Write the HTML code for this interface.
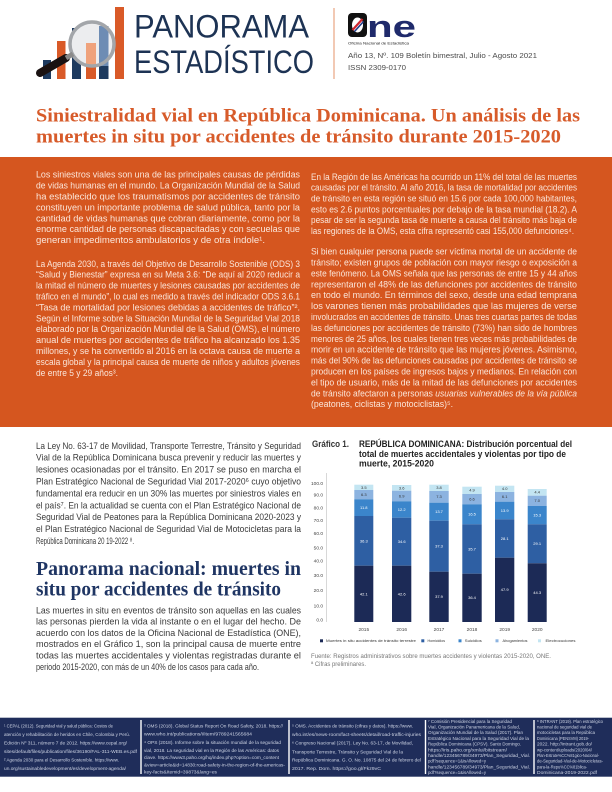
<!DOCTYPE html>
<html><head><meta charset="utf-8"><style>
html,body{margin:0;padding:0;background:#fff;}
svg{display:block;}
.b{font-family:"Liberation Sans",sans-serif;}
.o{font-family:"Liberation Sans",sans-serif;font-size:9px;fill:#FBE6DA;}
.g{font-family:"Liberation Sans",sans-serif;font-size:9.4px;fill:#3a3a3a;}
.f{font-family:"Liberation Sans",sans-serif;fill:#CDD3E3;}
.t{font-family:"Liberation Sans",sans-serif;font-size:4.8px;fill:#444;}
.w{font-family:"Liberation Sans",sans-serif;font-size:4px;fill:#fff;text-anchor:middle;}
.d{font-family:"Liberation Sans",sans-serif;font-size:4px;fill:#333;text-anchor:middle;}
</style></head><body>
<svg width="612" height="792" viewBox="0 0 612 792" xmlns="http://www.w3.org/2000/svg">
<rect width="612" height="792" fill="#fff"/>

<!-- LOGO ICON -->
<rect x="43" y="60" width="8" height="19" fill="#1D3A5F"/>
<rect x="57" y="41" width="8.5" height="38" fill="#D95A28"/>
<rect x="72" y="28" width="9" height="51" fill="#1D3A5F"/>
<circle cx="92" cy="44" r="22" fill="#ECEDEF"/>
<rect x="86" y="43" width="10" height="36" fill="#D95A28"/>
<rect x="86" y="43" width="10" height="22" fill="#EFA27C"/>
<rect x="99" y="26" width="9.5" height="53" fill="#1D3A5F"/>
<rect x="99" y="26" width="9.5" height="40" fill="#6D8CB4"/>
<rect x="115" y="7" width="9" height="72" fill="#D95A28"/>
<circle cx="92" cy="44" r="22" fill="none" stroke="#A3A6AA" stroke-width="3.5"/>
<line x1="40" y1="73" x2="66" y2="58" stroke="#1a1212" stroke-width="8" stroke-linecap="round"/>
<line x1="66" y1="58" x2="73" y2="54" stroke="#8a8a8a" stroke-width="5"/>

<text x="134" y="37.5" class="b" font-size="32" fill="#1D3354" textLength="175" lengthAdjust="spacingAndGlyphs">PANORAMA</text>
<text x="134" y="73" class="b" font-size="32" fill="#1D3354" textLength="180" lengthAdjust="spacingAndGlyphs">ESTADÍSTICO</text>

<line x1="334" y1="8" x2="334" y2="79" stroke="#E9A583" stroke-width="1.2"/>

<!-- ONE logo -->
<rect x="348" y="13" width="19" height="24" rx="4" fill="#111"/>
<ellipse cx="357.5" cy="25" rx="5.5" ry="7.5" fill="#fff"/>
<line x1="352.5" y1="30" x2="362.5" y2="19" stroke="#D0262F" stroke-width="2.2"/>
<line x1="354.5" y1="31.5" x2="363.5" y2="21.5" stroke="#1F3C88" stroke-width="1.6"/>
<text x="367" y="37" class="b" font-size="31" font-weight="bold" fill="#1F2A6B" textLength="49" lengthAdjust="spacingAndGlyphs">ne</text>
<text x="348" y="44.5" class="b" font-size="3.6" fill="#222" textLength="61" lengthAdjust="spacingAndGlyphs">Oficina Nacional de Estadística</text>
<text x="348" y="58" class="b" font-size="7" fill="#4a4a4a" textLength="189" lengthAdjust="spacingAndGlyphs">Año 13, Nº. 109 Boletín bimestral, Julio - Agosto 2021</text>
<text x="348" y="70" class="b" font-size="7" fill="#4a4a4a" textLength="58" lengthAdjust="spacingAndGlyphs">ISSN 2309-0170</text>

<!-- TITLE -->
<text x="36" y="121.5" font-family="'Liberation Serif',serif" font-weight="bold" font-size="18.5" fill="#D75B2A" textLength="544" lengthAdjust="spacingAndGlyphs">Siniestralidad vial en República Dominicana. Un análisis de las</text>
<text x="36" y="142.5" font-family="'Liberation Serif',serif" font-weight="bold" font-size="18.5" fill="#D75B2A" textLength="525" lengthAdjust="spacingAndGlyphs">muertes in situ por accidentes de tránsito durante 2015-2020</text>

<!-- ORANGE BOX -->
<rect x="0" y="157" width="612" height="270" fill="#D5561F"/>
<text class="o" x="36" y="177.7" textLength="264" lengthAdjust="spacingAndGlyphs">Los siniestros viales son una de las principales causas de pérdidas</text>
<text class="o" x="36" y="188.6" textLength="264" lengthAdjust="spacingAndGlyphs">de vidas humanas en el mundo. La Organización Mundial de la Salud</text>
<text class="o" x="36" y="199.5" textLength="264" lengthAdjust="spacingAndGlyphs">ha establecido que los traumatismos por accidentes de tránsito</text>
<text class="o" x="36" y="210.4" textLength="264" lengthAdjust="spacingAndGlyphs">constituyen un importante problema de salud pública, tanto por la</text>
<text class="o" x="36" y="221.3" textLength="264" lengthAdjust="spacingAndGlyphs">cantidad de vidas humanas que cobran diariamente, como por la</text>
<text class="o" x="36" y="232.2" textLength="264" lengthAdjust="spacingAndGlyphs">enorme cantidad de personas discapacitadas y con secuelas que</text>
<text class="o" x="36" y="243.1" textLength="229" lengthAdjust="spacingAndGlyphs">generan impedimentos ambulatorios y de otra índole¹.</text>

<text class="o" x="36" y="266.8" textLength="264" lengthAdjust="spacingAndGlyphs">La Agenda 2030, a través del Objetivo de Desarrollo Sostenible (ODS) 3</text>
<text class="o" x="36" y="277.7" textLength="264" lengthAdjust="spacingAndGlyphs">“Salud y Bienestar” expresa en su Meta 3.6: “De aquí al 2020 reducir a</text>
<text class="o" x="36" y="288.6" textLength="264" lengthAdjust="spacingAndGlyphs">la mitad el número de muertes y lesiones causadas por accidentes de</text>
<text class="o" x="36" y="299.5" textLength="264" lengthAdjust="spacingAndGlyphs">tráfico en el mundo”, lo cual es medido a través del indicador ODS 3.6.1</text>
<text class="o" x="36" y="310.4" textLength="264" lengthAdjust="spacingAndGlyphs">“Tasa de mortalidad por lesiones debidas a accidentes de tráfico”².</text>
<text class="o" x="36" y="321.3" textLength="264" lengthAdjust="spacingAndGlyphs">Según el Informe sobre la Situación Mundial de la Seguridad Vial 2018</text>
<text class="o" x="36" y="332.2" textLength="264" lengthAdjust="spacingAndGlyphs">elaborado por la Organización Mundial de la Salud (OMS), el número</text>
<text class="o" x="36" y="343.1" textLength="264" lengthAdjust="spacingAndGlyphs">anual de muertes por accidentes de tráfico ha alcanzado los 1.35</text>
<text class="o" x="36" y="354.0" textLength="264" lengthAdjust="spacingAndGlyphs">millones, y se ha convertido al 2016 en la octava causa de muerte a</text>
<text class="o" x="36" y="364.9" textLength="264" lengthAdjust="spacingAndGlyphs">escala global y la principal causa de muerte de niños y adultos jóvenes</text>
<text class="o" x="36" y="375.8" textLength="82" lengthAdjust="spacingAndGlyphs">de entre 5 y 29 años³.</text>

<text class="o" x="311" y="179.9" textLength="266" lengthAdjust="spacingAndGlyphs">En la Región de las Américas ha ocurrido un 11% del total de las muertes</text>
<text class="o" x="311" y="190.7" textLength="266" lengthAdjust="spacingAndGlyphs">causadas por el tránsito. Al año 2016, la tasa de mortalidad por accidentes</text>
<text class="o" x="311" y="201.5" textLength="266" lengthAdjust="spacingAndGlyphs">de tránsito en esta región se situó en 15.6 por cada 100,000 habitantes,</text>
<text class="o" x="311" y="212.3" textLength="266" lengthAdjust="spacingAndGlyphs">esto es 2.6 puntos porcentuales por debajo de la tasa mundial (18.2). A</text>
<text class="o" x="311" y="223.1" textLength="266" lengthAdjust="spacingAndGlyphs">pesar de ser la segunda tasa de muerte a causa del tránsito más baja de</text>
<text class="o" x="311" y="233.9" textLength="263" lengthAdjust="spacingAndGlyphs">las regiones de la OMS, esta cifra representó casi 155,000 defunciones⁴.</text>

<text class="o" x="311" y="254.6" textLength="266" lengthAdjust="spacingAndGlyphs">Si bien cualquier persona puede ser víctima mortal de un accidente de</text>
<text class="o" x="311" y="265.5" textLength="266" lengthAdjust="spacingAndGlyphs">tránsito; existen grupos de población con mayor riesgo o exposición a</text>
<text class="o" x="311" y="276.4" textLength="266" lengthAdjust="spacingAndGlyphs">este fenómeno. La OMS señala que las personas de entre 15 y 44 años</text>
<text class="o" x="311" y="287.3" textLength="266" lengthAdjust="spacingAndGlyphs">representaron el 48% de las defunciones por accidentes de tránsito</text>
<text class="o" x="311" y="298.2" textLength="266" lengthAdjust="spacingAndGlyphs">en todo el mundo. En términos del sexo, desde una edad temprana</text>
<text class="o" x="311" y="309.1" textLength="266" lengthAdjust="spacingAndGlyphs">los varones tienen más probabilidades que las mujeres de verse</text>
<text class="o" x="311" y="320.0" textLength="266" lengthAdjust="spacingAndGlyphs">involucrados en accidentes de tránsito. Unas tres cuartas partes de todas</text>
<text class="o" x="311" y="330.9" textLength="266" lengthAdjust="spacingAndGlyphs">las defunciones por accidentes de tránsito (73%) han sido de hombres</text>
<text class="o" x="311" y="341.8" textLength="266" lengthAdjust="spacingAndGlyphs">menores de 25 años, los cuales tienen tres veces más probabilidades de</text>
<text class="o" x="311" y="352.7" textLength="266" lengthAdjust="spacingAndGlyphs">morir en un accidente de tránsito que las mujeres jóvenes. Asimismo,</text>
<text class="o" x="311" y="363.6" textLength="266" lengthAdjust="spacingAndGlyphs">más del 90% de las defunciones causadas por accidentes de tránsito se</text>
<text class="o" x="311" y="374.5" textLength="266" lengthAdjust="spacingAndGlyphs">producen en los países de ingresos bajos y medianos. En relación con</text>
<text class="o" x="311" y="385.4" textLength="266" lengthAdjust="spacingAndGlyphs">el tipo de usuario, más de la mitad de las defunciones por accidentes</text>
<text class="o" x="311" y="396.3" textLength="266" lengthAdjust="spacingAndGlyphs">de tránsito afectaron a personas <tspan font-style="italic">usuarias vulnerables de la vía pública</tspan></text>
<text class="o" x="311" y="407.2" textLength="142" lengthAdjust="spacingAndGlyphs">(peatones, ciclistas y motociclistas)⁵.</text>

<!-- LOWER LEFT -->
<text class="g" x="36" y="448.8" textLength="265" lengthAdjust="spacingAndGlyphs">La Ley No. 63-17 de Movilidad, Transporte Terrestre, Tránsito y Seguridad</text>
<text class="g" x="36" y="460.7" textLength="265" lengthAdjust="spacingAndGlyphs">Vial de la República Dominicana busca prevenir y reducir las muertes y</text>
<text class="g" x="36" y="472.6" textLength="265" lengthAdjust="spacingAndGlyphs">lesiones ocasionadas por el tránsito. En 2017 se puso en marcha el</text>
<text class="g" x="36" y="484.5" textLength="265" lengthAdjust="spacingAndGlyphs">Plan Estratégico Nacional de Seguridad Vial 2017-2020⁶ cuyo objetivo</text>
<text class="g" x="36" y="496.4" textLength="265" lengthAdjust="spacingAndGlyphs">fundamental era reducir en un 30% las muertes por siniestros viales en</text>
<text class="g" x="36" y="508.3" textLength="265" lengthAdjust="spacingAndGlyphs">el país⁷. En la actualidad se cuenta con el Plan Estratégico Nacional de</text>
<text class="g" x="36" y="520.2" textLength="265" lengthAdjust="spacingAndGlyphs">Seguridad Vial de Peatones para la República Dominicana 2020-2023 y</text>
<text class="g" x="36" y="532.1" textLength="265" lengthAdjust="spacingAndGlyphs">el Plan Estratégico Nacional de Seguridad Vial de Motocicletas para la</text>
<text class="g" x="36" y="544.0" textLength="98" lengthAdjust="spacingAndGlyphs">República Dominicana 20 19-2022 ⁸.</text>

<text x="36" y="575" font-family="'Liberation Serif',serif" font-weight="bold" font-size="19.5" fill="#1F3563" textLength="265" lengthAdjust="spacingAndGlyphs">Panorama nacional: muertes in</text>
<text x="36" y="595.5" font-family="'Liberation Serif',serif" font-weight="bold" font-size="19.5" fill="#1F3563" textLength="245" lengthAdjust="spacingAndGlyphs">situ por accidentes de tránsito</text>

<text class="g" x="36" y="613.3" textLength="265" lengthAdjust="spacingAndGlyphs">Las muertes in situ en eventos de tránsito son aquellas en las cuales</text>
<text class="g" x="36" y="624.6" textLength="265" lengthAdjust="spacingAndGlyphs">las personas pierden la vida al instante o en el lugar del hecho. De</text>
<text class="g" x="36" y="635.9" textLength="265" lengthAdjust="spacingAndGlyphs">acuerdo con los datos de la Oficina Nacional de Estadística (ONE),</text>
<text class="g" x="36" y="647.2" textLength="265" lengthAdjust="spacingAndGlyphs">mostrados en el Gráfico 1, son la principal causa de muerte entre</text>
<text class="g" x="36" y="658.5" textLength="265" lengthAdjust="spacingAndGlyphs">todas las muertes accidentales y violentas registradas durante el</text>
<text class="g" x="36" y="669.8" textLength="223" lengthAdjust="spacingAndGlyphs">periodo 2015-2020, con más de un 40% de los casos para cada año.</text>

<!-- CHART TITLE -->
<text x="312" y="447" class="b" font-size="9" font-weight="bold" fill="#333" textLength="37" lengthAdjust="spacingAndGlyphs">Gráfico 1.</text>
<text x="359" y="447" class="b" font-size="9" font-weight="bold" fill="#222" textLength="213" lengthAdjust="spacingAndGlyphs">REPÚBLICA DOMINICANA: Distribución porcentual del</text>
<text x="359" y="457" class="b" font-size="9" font-weight="bold" fill="#222" textLength="207" lengthAdjust="spacingAndGlyphs">total de muertes accidentales y violentas por tipo de</text>
<text x="359" y="466.5" class="b" font-size="9" font-weight="bold" fill="#222" textLength="75" lengthAdjust="spacingAndGlyphs">muerte, 2015-2020</text>

<!-- CHART AXIS -->
<line x1="326.5" y1="473" x2="326.5" y2="622" stroke="#cfcfcf" stroke-width="0.8"/>
<g class="t" text-anchor="end">
<text x="323" y="485">100.0</text>
<text x="323" y="496.7">90.0</text>
<text x="323" y="509.4">80.0</text>
<text x="323" y="522">70.0</text>
<text x="323" y="535">60.0</text>
<text x="323" y="549.7">50.0</text>
<text x="323" y="562.7">40.0</text>
<text x="323" y="577">30.0</text>
<text x="323" y="592.2">20.0</text>
<text x="323" y="607.7">10.0</text>
<text x="323" y="621.7">0.0</text>
</g>

<!-- BARS -->
<g>
<rect x="354.3" y="484.7" width="19" height="5.3" fill="#C3E5F2"/>
<rect x="354.3" y="490" width="19" height="9.3" fill="#8CB3E0"/>
<rect x="354.3" y="499.3" width="19" height="16.7" fill="#3B85CB"/>
<rect x="354.3" y="516" width="19" height="49.7" fill="#2E5FA3"/>
<rect x="354.3" y="565.7" width="19" height="56.3" fill="#1C2A56"/>
<text class="d" x="363.8" y="488.8">3.5</text>
<text class="d" x="363.8" y="496.1">6.3</text>
<text class="w" x="363.8" y="509.1">11.8</text>
<text class="w" x="363.8" y="542.3">36.3</text>
<text class="w" x="363.8" y="595.3">42.1</text>

<rect x="392" y="485" width="19.3" height="5.7" fill="#C3E5F2"/>
<rect x="392" y="490.7" width="19.3" height="10.6" fill="#8CB3E0"/>
<rect x="392" y="501.3" width="19.3" height="16.4" fill="#3B85CB"/>
<rect x="392" y="517.7" width="19.3" height="48" fill="#2E5FA3"/>
<rect x="392" y="565.7" width="19.3" height="56.3" fill="#1C2A56"/>
<text class="d" x="401.7" y="489.3">3.6</text>
<text class="d" x="401.7" y="497.4">6.9</text>
<text class="w" x="401.7" y="510.9">12.2</text>
<text class="w" x="401.7" y="543.1">34.6</text>
<text class="w" x="401.7" y="595.3">42.6</text>

<rect x="429.3" y="484.7" width="19.4" height="6.3" fill="#C3E5F2"/>
<rect x="429.3" y="491" width="19.4" height="11.7" fill="#8CB3E0"/>
<rect x="429.3" y="502.7" width="19.4" height="18" fill="#3B85CB"/>
<rect x="429.3" y="520.7" width="19.4" height="51" fill="#2E5FA3"/>
<rect x="429.3" y="571.7" width="19.4" height="50.3" fill="#1C2A56"/>
<text class="d" x="439" y="489.2">3.8</text>
<text class="d" x="439" y="498.2">7.3</text>
<text class="w" x="439" y="513.1">13.7</text>
<text class="w" x="439" y="547.6">37.3</text>
<text class="w" x="439" y="598.2">37.9</text>

<rect x="462.3" y="486.7" width="19.4" height="7.3" fill="#C3E5F2"/>
<rect x="462.3" y="494" width="19.4" height="10.3" fill="#8CB3E0"/>
<rect x="462.3" y="504.3" width="19.4" height="20" fill="#3B85CB"/>
<rect x="462.3" y="524.3" width="19.4" height="49.4" fill="#2E5FA3"/>
<rect x="462.3" y="573.7" width="19.4" height="48.3" fill="#1C2A56"/>
<text class="d" x="472" y="491.7">4.9</text>
<text class="d" x="472" y="500.5">6.6</text>
<text class="w" x="472" y="515.7">16.5</text>
<text class="w" x="472" y="550.4">35.7</text>
<text class="w" x="472" y="599.2">36.4</text>

<rect x="495" y="485.7" width="19.3" height="6.3" fill="#C3E5F2"/>
<rect x="495" y="492" width="19.3" height="9.7" fill="#8CB3E0"/>
<rect x="495" y="501.7" width="19.3" height="17.6" fill="#3B85CB"/>
<rect x="495" y="519.3" width="19.3" height="38.4" fill="#2E5FA3"/>
<rect x="495" y="557.7" width="19.3" height="64.3" fill="#1C2A56"/>
<text class="d" x="504.7" y="490.2">4.0</text>
<text class="d" x="504.7" y="498.2">6.1</text>
<text class="w" x="504.7" y="511.9">13.9</text>
<text class="w" x="504.7" y="539.9">28.1</text>
<text class="w" x="504.7" y="591.2">47.9</text>

<rect x="527.7" y="489" width="19" height="6.7" fill="#C3E5F2"/>
<rect x="527.7" y="495.7" width="19" height="10.3" fill="#8CB3E0"/>
<rect x="527.7" y="506" width="19" height="18.3" fill="#3B85CB"/>
<rect x="527.7" y="524.3" width="19" height="39" fill="#2E5FA3"/>
<rect x="527.7" y="563.3" width="19" height="58.7" fill="#1C2A56"/>
<text class="d" x="537.2" y="493.7">4.4</text>
<text class="d" x="537.2" y="502.2">7.0</text>
<text class="w" x="537.2" y="516.5">15.3</text>
<text class="w" x="537.2" y="545.2">29.1</text>
<text class="w" x="537.2" y="594.1">44.3</text>
</g>

<g class="t" text-anchor="middle">
<text x="363.8" y="631.2">2015</text>
<text x="401.7" y="631.2">2016</text>
<text x="439" y="631.2">2017</text>
<text x="472" y="631.2">2018</text>
<text x="504.7" y="631.2">2019</text>
<text x="537.2" y="631.2">2020</text>
</g>

<!-- LEGEND -->
<rect x="320" y="639.3" width="3" height="3" fill="#1C2A56"/>
<text x="326" y="642.2" class="b" font-size="3.6" fill="#333" textLength="90" lengthAdjust="spacingAndGlyphs">Muertes in situ accidentes de tránsito terrestre</text>
<rect x="421.3" y="639.3" width="3" height="3" fill="#2E5FA3"/>
<text x="427.5" y="642.2" class="b" font-size="3.6" fill="#333" textLength="17.5" lengthAdjust="spacingAndGlyphs">Homicidios</text>
<rect x="458.5" y="639.3" width="3" height="3" fill="#3B85CB"/>
<text x="464.8" y="642.2" class="b" font-size="3.6" fill="#333" textLength="17" lengthAdjust="spacingAndGlyphs">Suicidios</text>
<rect x="495.5" y="639.3" width="3" height="3" fill="#8CB3E0"/>
<text x="502.5" y="642.2" class="b" font-size="3.6" fill="#333" textLength="25" lengthAdjust="spacingAndGlyphs">Ahogamientos</text>
<rect x="538" y="639.3" width="3" height="3" fill="#C3E5F2"/>
<text x="545.5" y="642.2" class="b" font-size="3.6" fill="#333" textLength="30" lengthAdjust="spacingAndGlyphs">Electrocuciones</text>

<text x="311" y="658.2" class="b" font-size="6.3" fill="#777" textLength="240" lengthAdjust="spacingAndGlyphs">Fuente: Registros administrativos sobre muertes accidentes y violentas 2015-2020, ONE.</text>
<text x="311" y="666.2" class="b" font-size="6.3" fill="#777" textLength="55" lengthAdjust="spacingAndGlyphs">ª Cifras preliminares.</text>

<!-- FOOTER -->
<rect x="0" y="717.7" width="612" height="59" fill="#1F2D5A"/>
<g stroke="#ffffff" stroke-width="1.4">
<line x1="141" y1="720" x2="141" y2="774"/>
<line x1="289" y1="720" x2="289" y2="774"/>
<line x1="425.5" y1="720" x2="425.5" y2="774"/>
<line x1="534" y1="720" x2="534" y2="774"/>
</g>
<g class="f" font-size="4.6">
<text x="4" y="727.3" textLength="109" lengthAdjust="spacingAndGlyphs">¹ CEPAL (2012). Seguridad vial y salud pública: Costos de</text>
<text x="4" y="735.8" textLength="126" lengthAdjust="spacingAndGlyphs">atención y rehabilitación de heridos en Chile, Colombia y Perú.</text>
<text x="4" y="744.3" textLength="123" lengthAdjust="spacingAndGlyphs">Edición Nº 311, número 7 de 2012. https://www.cepal.org/</text>
<text x="4" y="752.8" textLength="133" lengthAdjust="spacingAndGlyphs">sites/default/files/publication/files/36190/FAL-311-WEB.es.pdf</text>
<text x="4" y="761.3" textLength="115" lengthAdjust="spacingAndGlyphs">² Agenda 2030 para el Desarrollo Sostenible. https://www.</text>
<text x="4" y="769.8" textLength="122" lengthAdjust="spacingAndGlyphs">un.org/sustainabledevelopment/es/development-agenda/</text>

<text x="144" y="727.3" textLength="139" lengthAdjust="spacingAndGlyphs">³ OMS (2018). Global Status Report On Road Safety, 2018. https://</text>
<text x="144" y="735.6" textLength="108" lengthAdjust="spacingAndGlyphs">www.who.int/publications/i/item/9789241565684</text>
<text x="144" y="743.9" textLength="137" lengthAdjust="spacingAndGlyphs">⁴ OPS (2018). Informe sobre la situación mundial de la seguridad</text>
<text x="144" y="752.2" textLength="135" lengthAdjust="spacingAndGlyphs">vial, 2018. La seguridad vial en la Región de las Américas: datos</text>
<text x="144" y="759.2" textLength="135" lengthAdjust="spacingAndGlyphs">clave. https://www3.paho.org/hq/index.php?option=com_content</text>
<text x="144" y="766.6" textLength="141" lengthAdjust="spacingAndGlyphs">&amp;view=article&amp;id=14830:road-safety-in-the-region-of-the-americas-</text>
<text x="144" y="773.6" textLength="73" lengthAdjust="spacingAndGlyphs">key-facts&amp;Itemid=39873&amp;lang=es</text>

<text x="292" y="727.3" textLength="121" lengthAdjust="spacingAndGlyphs">⁵ OMS. Accidentes de tránsito (cifras y datos). https://www.</text>
<text x="292" y="735.9" textLength="129" lengthAdjust="spacingAndGlyphs">who.int/es/news-room/fact-sheets/detail/road-traffic-injuries</text>
<text x="292" y="744.3" textLength="121" lengthAdjust="spacingAndGlyphs">⁶ Congreso Nacional (2017). Ley No. 63-17, de Movilidad,</text>
<text x="292" y="753.3" textLength="111" lengthAdjust="spacingAndGlyphs">Transporte Terrestre, Tránsito y Seguridad Vial de la</text>
<text x="292" y="761.6" textLength="129" lengthAdjust="spacingAndGlyphs">República Dominicana. G. O. No. 10875 del 24 de febrero del</text>
<text x="292" y="769.9" textLength="89" lengthAdjust="spacingAndGlyphs">2017. Rep. Dom. https://goo.gl/Fkz9vC</text>
</g>
<g class="f" font-size="4.6">
<text x="428" y="722.8" textLength="84" lengthAdjust="spacingAndGlyphs">⁷ Comisión Presidencial para la Seguridad</text>
<text x="428" y="728.5" textLength="92" lengthAdjust="spacingAndGlyphs">Vial, Organización Panamericana de la Salud,</text>
<text x="428" y="734.2" textLength="95" lengthAdjust="spacingAndGlyphs">Organización Mundial de la Salud (2017). Plan</text>
<text x="428" y="739.9" textLength="101" lengthAdjust="spacingAndGlyphs">Estratégico Nacional para la Seguridad Vial de la</text>
<text x="428" y="745.6" textLength="93" lengthAdjust="spacingAndGlyphs">República Dominicana (CPSV). Santo Domingo.</text>
<text x="428" y="751.3" textLength="79" lengthAdjust="spacingAndGlyphs">https://iris.paho.org/xmlui/bitstream/</text>
<text x="428" y="757.0" textLength="102" lengthAdjust="spacingAndGlyphs">handle/123456789/34973/Plan_Seguridad_Vial.</text>
<text x="428" y="762.7" textLength="58" lengthAdjust="spacingAndGlyphs">pdf?sequence=1&amp;isAllowed=y</text>
<text x="428" y="768.4" textLength="102" lengthAdjust="spacingAndGlyphs">handle/123456789/34973/Plan_Seguridad_Vial.</text>
<text x="428" y="774.1" textLength="58" lengthAdjust="spacingAndGlyphs">pdf?sequence=1&amp;isAllowed=y</text>

<text x="537" y="722.8" textLength="66" lengthAdjust="spacingAndGlyphs">⁸ INTRANT (2019). Plan estratégico</text>
<text x="537" y="728.5" textLength="55" lengthAdjust="spacingAndGlyphs">nacional de seguridad vial de</text>
<text x="537" y="734.2" textLength="58" lengthAdjust="spacingAndGlyphs">motocicletas para la República</text>
<text x="537" y="739.9" textLength="52" lengthAdjust="spacingAndGlyphs">Dominicana (PENSVM) 2019-</text>
<text x="537" y="745.6" textLength="55" lengthAdjust="spacingAndGlyphs">2022. http://intrant.gob.do/</text>
<text x="537" y="751.3" textLength="55" lengthAdjust="spacingAndGlyphs">wp-content/uploads/2020/04/</text>
<text x="537" y="757.0" textLength="62" lengthAdjust="spacingAndGlyphs">Plan-Estrate%CC%81gico-Nacional-</text>
<text x="537" y="762.7" textLength="66" lengthAdjust="spacingAndGlyphs">de-Seguridad-Vial-de-Motocicletas-</text>
<text x="537" y="768.4" textLength="50" lengthAdjust="spacingAndGlyphs">para-la-Repu%CC%81blica-</text>
<text x="537" y="774.1" textLength="60" lengthAdjust="spacingAndGlyphs">Dominicana-2019-2022.pdf</text>
</g>
</svg>
</body></html>
